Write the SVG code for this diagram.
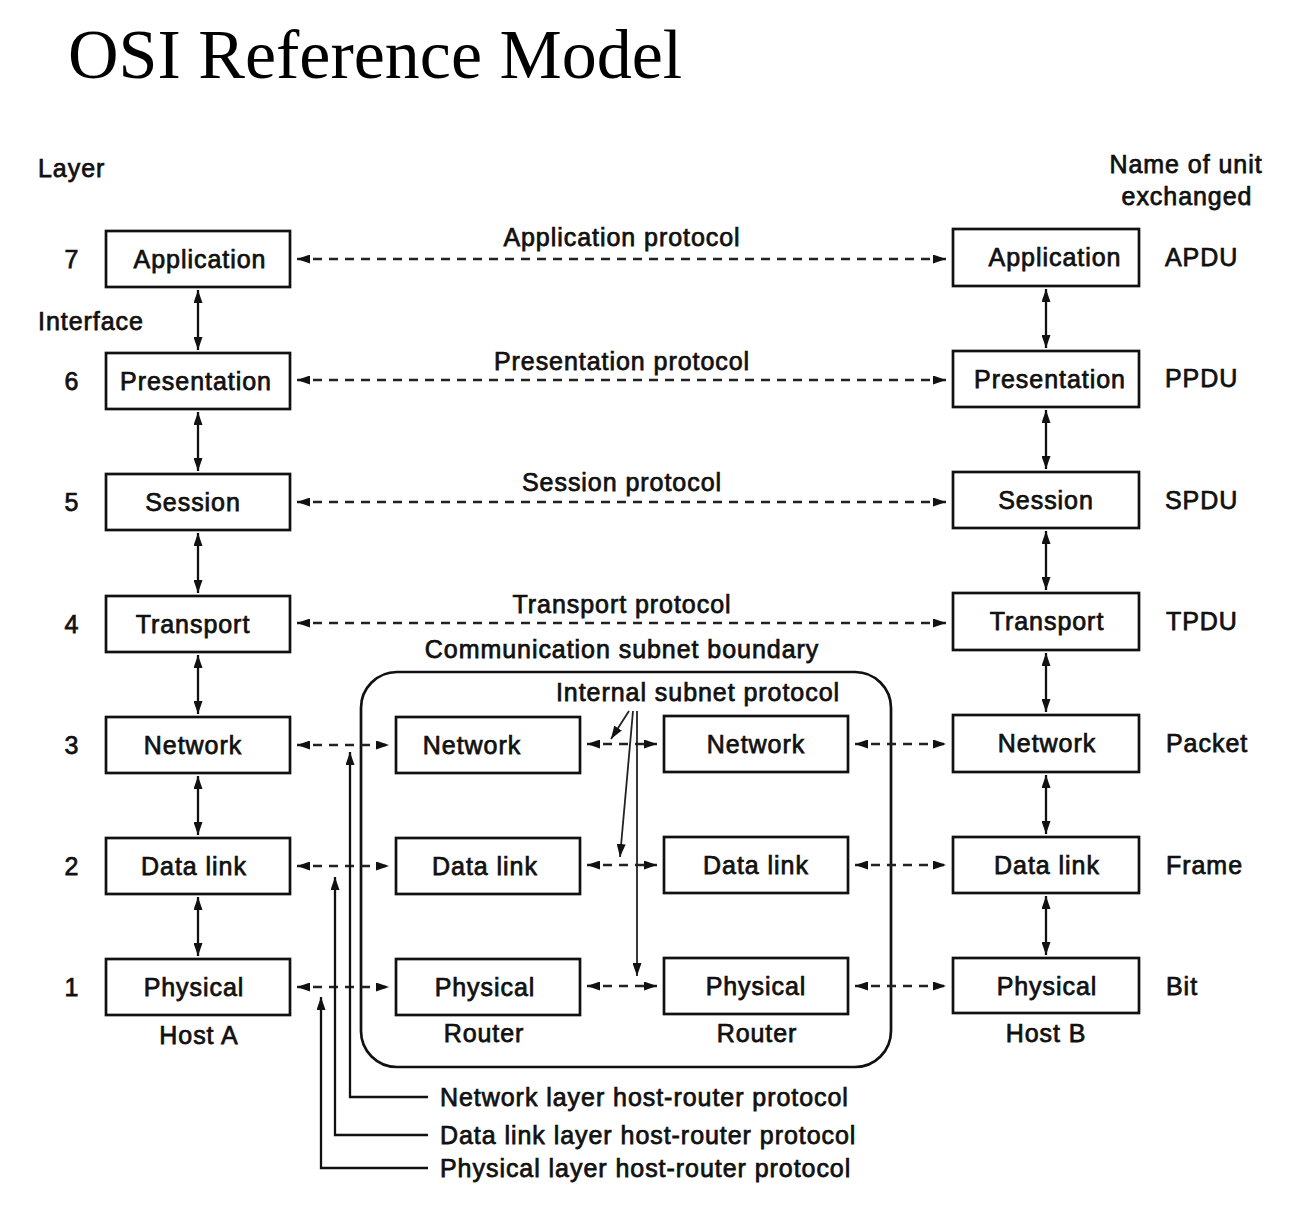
<svg xmlns="http://www.w3.org/2000/svg" width="1312" height="1212" viewBox="0 0 1312 1212">
<style>
.t{font-family:"Liberation Sans",Arial,sans-serif;font-size:25px;letter-spacing:0.95px;fill:#111;stroke:#111;stroke-width:0.75}
.c{text-anchor:middle}
.box{fill:#fff;stroke:#111;stroke-width:2.7}
.dash{fill:none;stroke:#222;stroke-width:2.5;stroke-dasharray:9 7}
.sol{fill:none;stroke:#111;stroke-width:2.3}
.thin{fill:none;stroke:#222;stroke-width:1.8}
</style>
<defs>
<marker id="ah" viewBox="0 0 13 9" refX="13" refY="4.5" markerWidth="13" markerHeight="9" markerUnits="userSpaceOnUse" orient="auto-start-reverse">
<path d="M0,0 L13,4.5 L0,9 z" fill="#111"/>
</marker>
</defs>
<rect width="1312" height="1212" fill="#fff"/>
<text x="68" y="78" style="font-family:'Liberation Serif','Times New Roman',serif;font-size:70px;fill:#000">OSI Reference Model</text>

<g id="headers">
<text class="t" x="38" y="177">Layer</text>
<text class="t" x="38" y="330">Interface</text>
<text class="t c" x="1186" y="173">Name of unit</text>
<text class="t c" x="1187" y="205">exchanged</text>
<text class="t c" x="72" y="268">7</text>
<text class="t c" x="72" y="390">6</text>
<text class="t c" x="72" y="511">5</text>
<text class="t c" x="72" y="633">4</text>
<text class="t c" x="72" y="754">3</text>
<text class="t c" x="72" y="875">2</text>
<text class="t c" x="72" y="996">1</text>
<text class="t" x="1165" y="266">APDU</text>
<text class="t" x="1165" y="387">PPDU</text>
<text class="t" x="1165" y="509">SPDU</text>
<text class="t" x="1166" y="630">TPDU</text>
<text class="t" x="1166" y="752">Packet</text>
<text class="t" x="1166" y="874">Frame</text>
<text class="t" x="1166" y="995">Bit</text>
</g>

<g id="subnet">
<rect x="361" y="672" width="530" height="395" rx="36" fill="none" stroke="#111" stroke-width="2.7"/>
<text class="t c" x="622" y="658">Communication subnet boundary</text>
<text class="t c" x="698" y="701">Internal subnet protocol</text>
</g>

<g id="hostA">
<g id="a7"><rect class="box" x="106" y="231" width="184" height="56"/><text class="t c" x="200" y="268">Application</text></g>
<g id="a6"><rect class="box" x="106" y="353" width="184" height="56"/><text class="t c" x="196" y="390">Presentation</text></g>
<g id="a5"><rect class="box" x="106" y="474" width="184" height="56"/><text class="t c" x="193" y="511">Session</text></g>
<g id="a4"><rect class="box" x="106" y="596" width="184" height="56"/><text class="t c" x="193" y="633">Transport</text></g>
<g id="a3"><rect class="box" x="106" y="717" width="184" height="56"/><text class="t c" x="193" y="754">Network</text></g>
<g id="a2"><rect class="box" x="106" y="838" width="184" height="56"/><text class="t c" x="194" y="875">Data link</text></g>
<g id="a1"><rect class="box" x="106" y="959" width="184" height="56"/><text class="t c" x="194" y="996">Physical</text></g>
<text class="t c" x="199" y="1044">Host A</text>
</g>

<g id="router1">
<g id="r1n"><rect class="box" x="396" y="717" width="184" height="56"/><text class="t c" x="472" y="754">Network</text></g>
<g id="r1d"><rect class="box" x="396" y="838" width="184" height="56"/><text class="t c" x="485" y="875">Data link</text></g>
<g id="r1p"><rect class="box" x="396" y="959" width="184" height="56"/><text class="t c" x="485" y="996">Physical</text></g>
<text class="t c" x="484" y="1042">Router</text>
</g>

<g id="router2">
<g id="r2n"><rect class="box" x="664" y="716" width="184" height="56"/><text class="t c" x="756" y="753">Network</text></g>
<g id="r2d"><rect class="box" x="664" y="837" width="184" height="56"/><text class="t c" x="756" y="874">Data link</text></g>
<g id="r2p"><rect class="box" x="664" y="958" width="184" height="56"/><text class="t c" x="756" y="995">Physical</text></g>
<text class="t c" x="757" y="1042">Router</text>
</g>

<g id="hostB">
<g id="b7"><rect class="box" x="953" y="229" width="186" height="57"/><text class="t c" x="1055" y="266">Application</text></g>
<g id="b6"><rect class="box" x="953" y="351" width="186" height="56"/><text class="t c" x="1050" y="388">Presentation</text></g>
<g id="b5"><rect class="box" x="953" y="472" width="186" height="56"/><text class="t c" x="1046" y="509">Session</text></g>
<g id="b4"><rect class="box" x="953" y="593" width="186" height="57"/><text class="t c" x="1047" y="630">Transport</text></g>
<g id="b3"><rect class="box" x="953" y="715" width="186" height="57"/><text class="t c" x="1047" y="752">Network</text></g>
<g id="b2"><rect class="box" x="953" y="837" width="186" height="56"/><text class="t c" x="1047" y="874">Data link</text></g>
<g id="b1"><rect class="box" x="953" y="958" width="186" height="55"/><text class="t c" x="1047" y="995">Physical</text></g>
<text class="t c" x="1046" y="1042">Host B</text>
</g>

<g id="connectors">
<path class="dash" d="M297,259 H946" marker-start="url(#ah)" marker-end="url(#ah)"/>
<path class="dash" d="M297,380 H946" marker-start="url(#ah)" marker-end="url(#ah)"/>
<path class="dash" d="M297,502 H946" marker-start="url(#ah)" marker-end="url(#ah)"/>
<path class="dash" d="M297,623 H946" marker-start="url(#ah)" marker-end="url(#ah)"/>
<text class="t c" x="622" y="246">Application protocol</text>
<text class="t c" x="622" y="370">Presentation protocol</text>
<text class="t c" x="622" y="491">Session protocol</text>
<text class="t c" x="622" y="613">Transport protocol</text>

<path class="dash" d="M297,745 H389" marker-start="url(#ah)" marker-end="url(#ah)"/>
<path class="dash" d="M297,866 H389" marker-start="url(#ah)" marker-end="url(#ah)"/>
<path class="dash" d="M297,987 H389" marker-start="url(#ah)" marker-end="url(#ah)"/>
<path class="dash" d="M587,744 H657" marker-start="url(#ah)" marker-end="url(#ah)"/>
<path class="dash" d="M587,865 H657" marker-start="url(#ah)" marker-end="url(#ah)"/>
<path class="dash" d="M587,986 H657" marker-start="url(#ah)" marker-end="url(#ah)"/>
<path class="dash" d="M855,744 H946" marker-start="url(#ah)" marker-end="url(#ah)"/>
<path class="dash" d="M855,865 H946" marker-start="url(#ah)" marker-end="url(#ah)"/>
<path class="dash" d="M855,986 H946" marker-start="url(#ah)" marker-end="url(#ah)"/>

<path class="sol" d="M198,290 V350" marker-start="url(#ah)" marker-end="url(#ah)"/>
<path class="sol" d="M198,412 V471" marker-start="url(#ah)" marker-end="url(#ah)"/>
<path class="sol" d="M198,533 V593" marker-start="url(#ah)" marker-end="url(#ah)"/>
<path class="sol" d="M198,655 V714" marker-start="url(#ah)" marker-end="url(#ah)"/>
<path class="sol" d="M198,776 V835" marker-start="url(#ah)" marker-end="url(#ah)"/>
<path class="sol" d="M198,897 V956" marker-start="url(#ah)" marker-end="url(#ah)"/>
<path class="sol" d="M1046,289 V348" marker-start="url(#ah)" marker-end="url(#ah)"/>
<path class="sol" d="M1046,410 V469" marker-start="url(#ah)" marker-end="url(#ah)"/>
<path class="sol" d="M1046,531 V590" marker-start="url(#ah)" marker-end="url(#ah)"/>
<path class="sol" d="M1046,653 V712" marker-start="url(#ah)" marker-end="url(#ah)"/>
<path class="sol" d="M1046,775 V834" marker-start="url(#ah)" marker-end="url(#ah)"/>
<path class="sol" d="M1046,896 V955" marker-start="url(#ah)" marker-end="url(#ah)"/>

<path class="thin" d="M629,711 L611,739" marker-end="url(#ah)"/>
<path class="thin" d="M633,711 L620,857" marker-end="url(#ah)"/>
<path class="thin" d="M637,711 V976" marker-end="url(#ah)"/>

<path class="sol" d="M428,1097 H350 V752" marker-end="url(#ah)"/>
<path class="sol" d="M428,1135 H335 V877" marker-end="url(#ah)"/>
<path class="sol" d="M428,1168 H321 V997" marker-end="url(#ah)"/>
<text class="t" x="440" y="1106">Network layer host-router protocol</text>
<text class="t" x="440" y="1144">Data link layer host-router protocol</text>
<text class="t" x="440" y="1177">Physical layer host-router protocol</text>
</g>
</svg>
